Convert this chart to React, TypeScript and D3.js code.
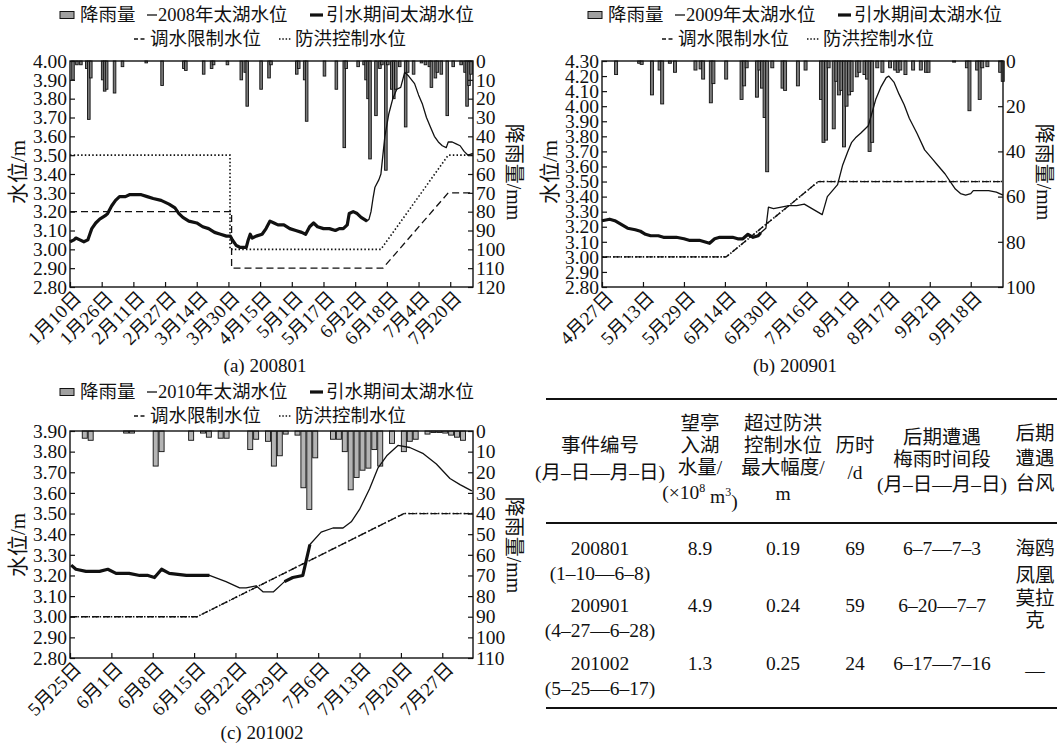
import { useEffect, useRef } from 'react'
import * as d3 from 'd3'

type Pt = [number, number]

const FONT = "'Liberation Serif', 'DejaVu Serif', 'Noto Sans CJK SC', serif"

// ---------- (a) 200801 ----------
const datesA = ['1月10日', '1月26日', '2月11日', '2月27日', '3月14日', '3月30日', '4月15日', '5月1日', '5月17日', '6月2日', '6月18日', '7月4日', '7月20日']
const levelA: Pt[] = [
  [0, 3.04], [2, 3.05], [3, 3.06], [5, 3.05], [7, 3.04], [9, 3.05], [10, 3.08], [11, 3.11], [13, 3.14], [15, 3.16],
  [18, 3.18], [19, 3.19], [21, 3.23], [23, 3.26], [25, 3.28], [28, 3.28], [30, 3.29], [33, 3.29], [36, 3.29], [39, 3.28],
  [42, 3.27], [46, 3.26], [50, 3.24], [53, 3.22], [55, 3.19], [57, 3.17], [60, 3.15], [64, 3.14], [67, 3.12], [70, 3.11],
  [73, 3.09], [76, 3.08], [79, 3.07], [81, 3.07], [82, 3.05], [84, 3.02], [86, 3.01], [89, 3.01], [90, 3.05], [91, 3.08],
  [92, 3.06], [94, 3.07], [97, 3.08], [99, 3.11], [101, 3.15], [103, 3.14], [105, 3.13], [108, 3.13], [111, 3.11], [114, 3.1],
  [117, 3.09], [119, 3.08], [121, 3.12], [123, 3.14], [125, 3.12], [128, 3.11], [131, 3.11], [134, 3.1], [136, 3.11], [138, 3.11],
  [140, 3.13], [141, 3.19], [143, 3.2], [145, 3.19], [147, 3.17], [150, 3.15], [151, 3.16], [152, 3.2], [153, 3.27], [154, 3.33],
  [156, 3.37], [157, 3.4], [158, 3.5], [159, 3.6], [161, 3.72], [163, 3.8], [165, 3.85], [167, 3.86], [169, 3.94], [171, 3.92],
  [174, 3.88], [176, 3.82], [178, 3.77], [180, 3.7], [182, 3.65], [184, 3.6], [186, 3.57], [188, 3.55], [190, 3.54], [191, 3.57],
  [193, 3.57], [195, 3.56], [197, 3.55], [199, 3.52], [201, 3.5], [203.5, 3.51],
]
const thickA: Pt[] = [[0, 150]]
const limitA: Pt[] = [[0, 3.2], [81.6, 3.2], [81.6, 2.9], [158, 2.9], [191, 3.3], [203.5, 3.3]]
const floodA: Pt[] = [[0, 3.5], [80.8, 3.5], [80.8, 3.0], [157, 3.0], [191, 3.5], [203.5, 3.5]]
const rainA: Pt[] = [
  [1, 10], [3, 2], [5, 2], [8, 4], [9, 31], [10, 9], [16, 10], [17, 16], [18, 15], [22, 17], [26, 3], [38, 1], [46, 13],
  [57, 4], [58, 5], [67, 7], [71, 4], [72, 2], [79, 2], [86, 10], [88, 6], [89, 24], [96, 15], [100, 9], [101, 2],
  [114, 7], [115, 4], [118, 10], [119, 32], [128, 8], [134, 15], [138, 46], [139, 4], [145, 3], [148, 2], [149, 10],
  [150, 20], [151, 52], [154, 29], [156, 4], [157, 2], [159, 58], [160, 2], [162, 15], [163, 20], [164, 15], [166, 3],
  [169, 35], [170, 6], [173, 7], [177, 1], [179, 2], [181, 3], [182, 14], [184, 9], [185, 6], [187, 7], [190, 29],
  [193, 3], [197, 2], [199, 6], [200, 24], [201, 13], [202, 7],
]

// ---------- (b) 200901 ----------
const datesB = ['4月27日', '5月13日', '5月29日', '6月14日', '6月30日', '7月16日', '8月1日', '8月17日', '9月2日', '9月18日']
const levelB: Pt[] = [
  [0, 3.24], [3, 3.25], [5, 3.24], [8, 3.21], [10, 3.19], [13, 3.18], [15, 3.17], [17, 3.15], [19, 3.14], [22, 3.14],
  [24, 3.13], [27, 3.13], [29, 3.13], [32, 3.12], [34, 3.11], [36, 3.11], [38, 3.11], [40, 3.1], [42, 3.09], [44, 3.12],
  [46, 3.13], [49, 3.13], [51, 3.13], [53, 3.12], [55, 3.12], [57, 3.15], [59, 3.13], [61, 3.14], [62, 3.16], [64, 3.19],
  [65, 3.33], [67, 3.32], [70, 3.33], [73, 3.34], [76, 3.34], [79, 3.35], [81, 3.33], [83, 3.31], [86, 3.28], [88, 3.4],
  [90, 3.44], [92, 3.48], [94, 3.61], [96, 3.7], [97.5, 3.76], [99, 3.79], [101, 3.82], [104, 3.87], [105, 3.93], [107, 4.05],
  [109, 4.13], [111, 4.19], [112, 4.2], [114, 4.16], [116, 4.08], [118, 4.01], [120, 3.92], [123, 3.82], [126, 3.71], [129, 3.65],
  [131, 3.61], [134, 3.55], [136, 3.5], [138, 3.45], [140, 3.42], [142, 3.41], [144, 3.42], [145, 3.44], [148, 3.44], [151, 3.44],
  [154, 3.43], [156.6, 3.41],
]
const thickB: Pt[] = [[0, 62]]
const limitB: Pt[] = [[0, 3.0], [48.5, 3.0], [84.5, 3.5], [156.6, 3.5]]
const floodB: Pt[] = [[0, 3.0], [48.5, 3.0], [84.5, 3.5], [156.6, 3.5]]
const rainB: Pt[] = [
  [5, 6], [14, 1], [15, 1.5], [19, 15], [22, 4], [23, 19], [26, 1], [28, 5], [36, 4], [38, 3.5], [39, 8], [42, 18.5],
  [43, 10], [48, 8], [54, 17], [55, 11], [56, 3], [60, 16], [61, 4], [62, 12], [63, 25], [64, 49], [66, 3], [70, 12],
  [71, 13], [76, 11], [79, 4], [85, 17], [86, 36], [87, 35], [88, 3], [90, 30], [91, 9], [92, 15], [93, 13], [94, 38],
  [95, 20], [96, 15], [97, 13.5], [99, 7], [100, 5], [102, 6], [103, 8], [104, 40], [105, 36], [107, 3], [109, 5],
  [112, 3], [114, 4], [115, 5], [116, 4], [118, 6], [121, 4], [124, 4], [126, 5], [127, 5], [137, 0.5], [142, 3],
  [143, 22], [146, 4], [147, 17], [148, 3], [150, 2.5], [155, 5], [156, 9],
]

// ---------- (c) 201002 ----------
const datesC = ['5月25日', '6月1日', '6月8日', '6月15日', '6月22日', '6月29日', '7月6日', '7月13日', '7月20日', '7月27日']
const levelC: Pt[] = [
  [0.2, 3.25], [1, 3.23], [2.7, 3.22], [5, 3.22], [6.4, 3.23], [7.8, 3.21], [10, 3.21], [11.8, 3.2], [13.2, 3.2], [14.3, 3.19],
  [15.5, 3.23], [16.8, 3.21], [19.7, 3.2], [21.9, 3.2], [23.6, 3.2], [26.4, 3.17], [28.7, 3.14], [29.8, 3.14], [31.5, 3.15],
  [32.7, 3.12], [34.4, 3.12], [36.3, 3.17], [37.7, 3.19], [39.4, 3.2], [40.6, 3.35], [42.5, 3.41], [44.5, 3.43], [46.2, 3.43],
  [47.6, 3.46], [49, 3.52], [50.7, 3.62], [52.1, 3.72], [53.6, 3.78], [55.5, 3.83], [57.5, 3.82], [59.8, 3.79], [62, 3.74],
  [64.3, 3.67], [66, 3.64], [68, 3.61],
]
const thickC: Pt[] = [[0, 23.6], [36.3, 40.6]]
const limitC: Pt[] = [[0, 3.0], [21.5, 3.0], [56.5, 3.5], [68.2, 3.5]]
const floodC: Pt[] = [[0, 3.0], [21.5, 3.0], [56.5, 3.5], [68.2, 3.5]]
const rainC: Pt[] = [
  [2, 3.5], [3, 4.5], [9, 1], [10, 1], [14, 17], [15, 10], [20, 4.5], [22, 1], [23, 3], [25, 3.5], [26, 3.5], [30, 9],
  [31, 4], [33, 5], [34, 17], [35, 12], [36, 1.5], [38, 2], [39, 27.5], [40, 38], [41, 13], [44, 4], [45, 4], [46, 10],
  [47, 28.5], [48, 22.5], [49, 19], [50, 18], [51, 9], [52, 17], [54, 6], [56, 10], [57, 5], [58, 4], [60, 1.5],
  [61, 0.7], [62, 0.7], [63, 1], [64, 2], [65, 3], [66, 4.5],
]

// ---------- table ----------
const eventIds = ['200801', '200901', '201002']
const eventSpans = ['(1–10—6–8)', '(4–27—6–28)', '(5–25—6–17)']
const inflow = ['8.9', '4.9', '1.3']
const exceed = ['0.19', '0.24', '0.25']
const duration = ['69', '59', '24']
const meiyu = ['6–7—7–3', '6–20—7–7', '6–17—7–16']
const typhoonLines = ['海鸥', '凤凰', '莫拉', '克']

type Panel = {
  left: number; top: number; width: number; height: number
  days: number; tickStep: number; dates: string[]
  levelDomain: [number, number]; rainMax: number; rainStep: number
  level: Pt[]; thick: Pt[]; limit: Pt[]; flood: Pt[]; rain: Pt[]
  barWidth: number; barFill: string
  leftTitleX: number; rightTitleX: number; titleY: number
  legendX: number; legendY: number; year: string
  caption: string; captionX: number; captionY: number
}

const panels: Panel[] = [
  {
    left: 70, top: 61, width: 403, height: 226, days: 203.5, tickStep: 16, dates: datesA,
    levelDomain: [2.8, 4.0], rainMax: 120, rainStep: 10,
    level: levelA, thick: thickA, limit: limitA, flood: floodA, rain: rainA,
    barWidth: 2.6, barFill: '#7a7a7a', leftTitleX: 18, rightTitleX: 514, titleY: 172,
    legendX: 60, legendY: 15, year: '2008', caption: '(a) 200801', captionX: 265, captionY: 365,
  },
  {
    left: 602, top: 61, width: 401, height: 226, days: 156.6, tickStep: 16, dates: datesB,
    levelDomain: [2.8, 4.3], rainMax: 100, rainStep: 20,
    level: levelB, thick: thickB, limit: limitB, flood: floodB, rain: rainB,
    barWidth: 3, barFill: '#7a7a7a', leftTitleX: 550, rightTitleX: 1044, titleY: 172,
    legendX: 588, legendY: 15, year: '2009', caption: '(b) 200901', captionX: 795, captionY: 365,
  },
  {
    left: 70, top: 431, width: 403, height: 227, days: 68.2, tickStep: 7, dates: datesC,
    levelDomain: [2.8, 3.9], rainMax: 110, rainStep: 10,
    level: levelC, thick: thickC, limit: limitC, flood: floodC, rain: rainC,
    barWidth: 5, barFill: '#b4b4b4', leftTitleX: 18, rightTitleX: 514, titleY: 545,
    legendX: 60, legendY: 392, year: '2010', caption: '(c) 201002', captionX: 262, captionY: 732,
  },
]

type Sel = d3.Selection<SVGGElement, unknown, null, undefined>

function drawLegend(g: Sel, p: Panel) {
  const lx = p.legendX
  const y1 = p.legendY
  const y2 = p.legendY + 24
  const txt = (x: number, y: number, s: string) =>
    g.append('text').attr('x', x).attr('y', y + 6).attr('font-size', 18.5).style('font-family', FONT).attr('fill', '#111').text(s)
  const seg = (x0: number, x1: number, y: number, w: number, dash?: string) =>
    g.append('line').attr('x1', x0).attr('x2', x1).attr('y1', y).attr('y2', y)
      .attr('stroke', '#111').attr('stroke-width', w).attr('stroke-dasharray', dash ?? null)

  g.append('rect').attr('x', lx).attr('y', y1 - 3.5).attr('width', 14).attr('height', 7)
    .attr('fill', '#a0a0a0').attr('stroke', '#111').attr('stroke-width', 1)
  txt(lx + 20, y1, '降雨量')
  seg(lx + 87, lx + 97, y1, 1.3)
  txt(lx + 98, y1, `${p.year}年太湖水位`)
  seg(lx + 250, lx + 263, y1, 3.2)
  txt(lx + 266, y1, '引水期间太湖水位')
  seg(lx + 74, lx + 87, y2, 1.3, '4,2.5')
  txt(lx + 90, y2, '调水限制水位')
  seg(lx + 219, lx + 232, y2, 1.5, '1.5,1.8')
  txt(lx + 235, y2, '防洪控制水位')
}

function drawPanel(svg: d3.Selection<SVGSVGElement, unknown, null, undefined>, p: Panel) {
  const g = svg.append('g') as unknown as Sel
  const x = d3.scaleLinear().domain([0, p.days]).range([p.left, p.left + p.width])
  const y = d3.scaleLinear().domain(p.levelDomain).range([p.top + p.height, p.top])
  const yr = d3.scaleLinear().domain([0, p.rainMax]).range([p.top, p.top + p.height])

  // rainfall bars hang from the top edge
  g.selectAll('rect.rain').data(p.rain).join('rect')
    .attr('class', 'rain')
    .attr('x', (d) => x(d[0] + 0.5) - p.barWidth / 2)
    .attr('y', p.top)
    .attr('width', p.barWidth)
    .attr('height', (d) => yr(d[1]) - p.top)
    .attr('fill', p.barFill)
    .attr('stroke', '#111')
    .attr('stroke-width', 0.9)

  const line = d3.line<Pt>().x((d) => x(d[0])).y((d) => y(d[1]))

  g.append('path').attr('d', line(p.limit)).attr('fill', 'none')
    .attr('stroke', '#111').attr('stroke-width', 1.3).attr('stroke-dasharray', '7,4')
  g.append('path').attr('d', line(p.flood)).attr('fill', 'none')
    .attr('stroke', '#111').attr('stroke-width', 1.6).attr('stroke-dasharray', '1.5,2.2')

  g.append('path').attr('d', line(p.level)).attr('fill', 'none')
    .attr('stroke', '#111').attr('stroke-width', 1.3).attr('stroke-linejoin', 'round')
  for (const [a, b] of p.thick) {
    const part = p.level.filter((d) => d[0] >= a && d[0] <= b)
    g.append('path').attr('d', line(part)).attr('fill', 'none')
      .attr('stroke', '#111').attr('stroke-width', 3.2).attr('stroke-linejoin', 'round')
  }

  // frame
  g.append('rect').attr('x', p.left).attr('y', p.top).attr('width', p.width).attr('height', p.height)
    .attr('fill', 'none').attr('stroke', '#111').attr('stroke-width', 1.4)

  // axes, ticks pointing inward
  const nLevel = Math.round((p.levelDomain[1] - p.levelDomain[0]) / 0.1)
  const levelTicks = d3.range(nLevel + 1).map((i) => p.levelDomain[0] + i * 0.1)
  const rainTicks = d3.range(0, p.rainMax + 0.001, p.rainStep)

  const axL = g.append('g').attr('transform', `translate(${p.left},0)`)
    .call(d3.axisLeft(y).tickValues(levelTicks).tickSize(-5).tickSizeOuter(0).tickPadding(3).tickFormat(d3.format('.2f')))
  const axR = g.append('g').attr('transform', `translate(${p.left + p.width},0)`)
    .call(d3.axisRight(yr).tickValues(rainTicks).tickSize(-5).tickSizeOuter(0).tickPadding(3).tickFormat(d3.format('d')))
  const axB = g.append('g').attr('transform', `translate(0,${p.top + p.height})`)
    .call(d3.axisBottom(x).tickValues(p.dates.map((_, i) => i * p.tickStep)).tickSize(-5).tickSizeOuter(0)
      .tickFormat((_, i) => p.dates[i]))

  for (const ax of [axL, axR, axB]) {
    ax.attr('font-family', null)
    ax.select('.domain').remove()
    ax.selectAll('.tick line').attr('stroke', '#111').attr('stroke-width', 1.2)
    ax.selectAll('text').style('font-family', FONT).attr('font-size', 19.5).attr('fill', '#111')
  }
  axB.selectAll('text')
    .attr('x', 0).attr('y', 0).attr('dy', 0)
    .attr('font-size', 19)
    .attr('text-anchor', 'end')
    .attr('transform', 'translate(12,12) rotate(-45)')

  // axis titles
  g.append('text').attr('transform', `translate(${p.leftTitleX},${p.titleY}) rotate(-90)`)
    .attr('text-anchor', 'middle').attr('dy', '0.35em').attr('font-size', 21).style('font-family', FONT).attr('fill', '#111')
    .text('水位/m')
  g.append('text').attr('transform', `translate(${p.rightTitleX},${p.titleY}) rotate(90)`)
    .attr('text-anchor', 'middle').attr('dy', '0.35em').attr('font-size', 20).style('font-family', FONT).attr('fill', '#111')
    .text('降雨量/mm')

  g.append('text').attr('x', p.captionX).attr('y', p.captionY).attr('dy', '0.35em')
    .attr('text-anchor', 'middle').attr('font-size', 19).style('font-family', FONT).attr('fill', '#111')
    .text(p.caption)

  drawLegend(g, p)
}

function drawTable(svg: d3.Selection<SVGSVGElement, unknown, null, undefined>) {
  const g = svg.append('g')
  const cols = [600, 700, 783, 855, 942, 1035]
  const put = (x: number, y: number, s: string) =>
    g.append('text').attr('x', x).attr('y', y).attr('dy', '0.35em').attr('text-anchor', 'middle')
      .attr('font-size', 19.5).style('font-family', FONT).attr('fill', '#111').text(s)

  for (const yy of [399, 523, 708]) {
    g.append('line').attr('x1', 546).attr('x2', 1057).attr('y1', yy).attr('y2', yy)
      .attr('stroke', '#111').attr('stroke-width', 2.2)
  }

  put(cols[0], 445, '事件编号')
  put(cols[0], 472, '(月–日—月–日)')
  put(cols[1], 423, '望亭')
  put(cols[1], 445, '入湖')
  put(cols[1], 467, '水量/')
  const unit = g.append('text').attr('x', cols[1]).attr('y', 492).attr('dy', '0.35em').attr('text-anchor', 'middle')
    .attr('font-size', 19.5).style('font-family', FONT).attr('fill', '#111')
  unit.append('tspan').text('(×10')
  unit.append('tspan').attr('font-size', 12).attr('dy', '-0.6em').text('8')
  unit.append('tspan').attr('dy', '0.6em').text(' m')
  unit.append('tspan').attr('font-size', 12).attr('dy', '-0.6em').text('3')
  unit.append('tspan').attr('dy', '0.6em').text(')')
  put(cols[2], 423, '超过防洪')
  put(cols[2], 445, '控制水位')
  put(cols[2], 467, '最大幅度/')
  put(cols[2], 493, 'm')
  put(cols[3], 445, '历时')
  put(cols[3], 472, '/d')
  put(cols[4], 437, '后期遭遇')
  put(cols[4], 459, '梅雨时间段')
  put(cols[4], 484, '(月–日—月–日)')
  put(cols[5], 433, '后期')
  put(cols[5], 458, '遭遇')
  put(cols[5], 483, '台风')

  const rowY = [548, 605, 663]
  eventIds.forEach((id, i) => {
    put(cols[0], rowY[i], id)
    put(cols[0], rowY[i] + 25, eventSpans[i])
    put(cols[1], rowY[i], inflow[i])
    put(cols[2], rowY[i], exceed[i])
    put(cols[3], rowY[i], duration[i])
    put(cols[4], rowY[i], meiyu[i])
  })
  const tyY = [548, 575, 598, 620]
  typhoonLines.forEach((s, i) => put(cols[5], tyY[i], s))
  put(cols[5], 670, '—')
}

export default function App() {
  const svgRef = useRef<SVGSVGElement>(null)

  useEffect(() => {
    if (!svgRef.current) return
    const svg = d3.select(svgRef.current)
    svg.selectAll('*').remove()
    svg.append('rect').attr('width', 1060).attr('height', 743).attr('fill', '#fff')
    for (const p of panels) drawPanel(svg, p)
    drawTable(svg)
  }, [])

  return (
    <svg
      ref={svgRef}
      width={1060}
      height={743}
      style={{ position: 'absolute', left: 0, top: 0, background: '#fff' }}
    />
  )
}
